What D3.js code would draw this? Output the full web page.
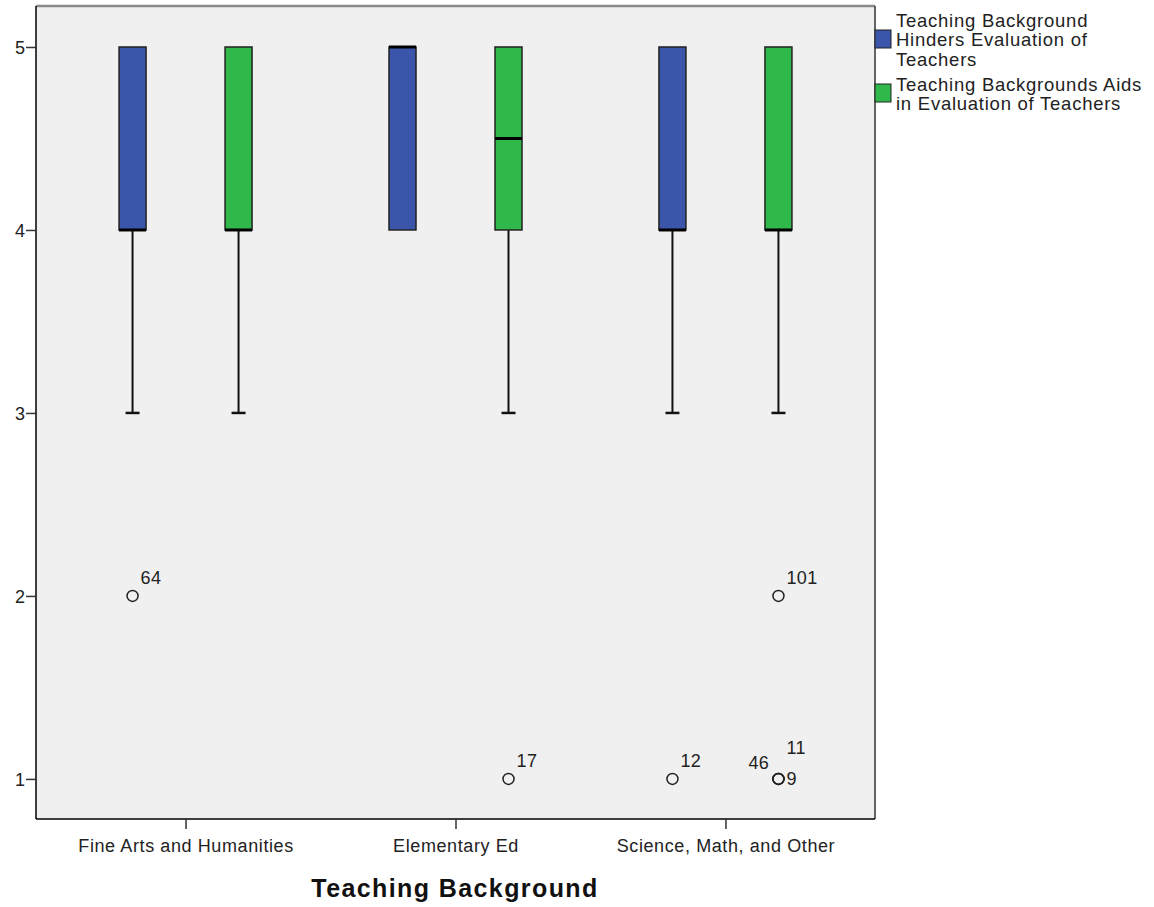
<!DOCTYPE html>
<html><head><meta charset="utf-8">
<script src="https://cdn.jsdelivr.net/npm/d3@7"></script>
<style>body{margin:0;background:#fff;} text{font-family:Arial,"Liberation Sans",sans-serif;}</style>
</head><body>
<svg id="c" width="1154" height="907"></svg>
<script>
const categories = ["Fine Arts and Humanities", "Elementary Ed", "Science, Math, and Other"];
const seriesNames = ["Teaching Background Hinders Evaluation of Teachers", "Teaching Backgrounds Aids in Evaluation of Teachers"];
const seriesColors = ["#3a55a9", "#31b84b"];
const yTicks = [1, 2, 3, 4, 5];
// [min whisker, q1, median, q3, max whisker] per category for each series
const hindersStats = [[3, 4, 4, 5, 5], [4, 4, 5, 5, 5], [3, 4, 4, 5, 5]];
const aidsStats = [[3, 4, 4, 5, 5], [3, 4, 4.5, 5, 5], [3, 4, 4, 5, 5]];
// outliers: [category index, series index, value, case label, label position]
const outliers = [
  [0, 0, 2, "64", "ur"],
  [1, 1, 1, "17", "ur"],
  [2, 0, 1, "12", "ur"],
  [2, 1, 2, "101", "ur"],
  [2, 1, 1, "46", "ul"],
  [2, 1, 1, "11", "ur2"],
  [2, 1, 1, "9", "r"]
];

const svg = d3.select("#c");
const L = 36, R = 875, T = 6, B = 819;
const x = d3.scalePoint().domain(categories).range([L, R]).padding(0.554);
const y = d3.scaleLinear().domain([0.781, 5.224]).range([B, T]);
const off = d3.scalePoint().domain([0, 1]).range([-53, 53]);
const bw = 27;

svg.append("rect").attr("x", L).attr("y", T).attr("width", R - L).attr("height", B - T).attr("fill", "#f0f0f0");
svg.append("line").attr("x1", L).attr("x2", R).attr("y1", T).attr("y2", T).attr("stroke", "#8a8a8a").attr("stroke-width", 2.5);
svg.append("line").attr("x1", R).attr("x2", R).attr("y1", T).attr("y2", B).attr("stroke", "#333").attr("stroke-width", 1.5);

// axes
const yAxis = d3.axisLeft(y).tickValues(yTicks).tickSize(10).tickSizeOuter(0).tickFormat(d3.format("d"));
const gy = svg.append("g").attr("transform", `translate(${L},0)`).call(yAxis);
gy.select(".domain").attr("stroke", "#000").attr("stroke-width", 1.5).attr("d", `M0,${T}V${B}`);
gy.selectAll(".tick line").attr("stroke", "#333").attr("stroke-width", 1.5);
gy.selectAll(".tick text").attr("font-size", 18).attr("fill", "#222").attr("x", -11).attr("dy", "0.35em");

const xAxis = d3.axisBottom(x).tickSize(10).tickSizeOuter(0);
const gx = svg.append("g").attr("transform", `translate(0,${B})`).call(xAxis);
gx.select(".domain").attr("stroke", "#000").attr("stroke-width", 1.5).attr("d", `M${L},0H${R}`);
gx.selectAll(".tick line").attr("stroke", "#333").attr("stroke-width", 1.5);
gx.selectAll(".tick text").attr("font-size", 18).attr("letter-spacing", 0.6).attr("fill", "#222").attr("y", 20);

svg.append("text").attr("x", 455).attr("y", 897).attr("text-anchor", "middle")
  .attr("font-size", 25).attr("letter-spacing", 1.4).attr("font-weight", "bold").attr("fill", "#111").text("Teaching Background");

// boxes
[hindersStats, aidsStats].forEach((stats, s) => {
  stats.forEach((st, i) => {
    const cx = x(categories[i]) + off(s);
    const [mn, q1, med, q3, mx] = st;
    const g = svg.append("g");
    if (mn < q1) {
      g.append("line").attr("x1", cx).attr("x2", cx).attr("y1", y(mn)).attr("y2", y(q1)).attr("stroke", "#111").attr("stroke-width", 2);
      g.append("line").attr("x1", cx - 7).attr("x2", cx + 7).attr("y1", y(mn)).attr("y2", y(mn)).attr("stroke", "#111").attr("stroke-width", 2.5);
    }
    if (mx > q3) {
      g.append("line").attr("x1", cx).attr("x2", cx).attr("y1", y(mx)).attr("y2", y(q3)).attr("stroke", "#111").attr("stroke-width", 2);
      g.append("line").attr("x1", cx - 7).attr("x2", cx + 7).attr("y1", y(mx)).attr("y2", y(mx)).attr("stroke", "#111").attr("stroke-width", 2.5);
    }
    g.append("rect").attr("x", cx - bw / 2).attr("y", y(q3)).attr("width", bw).attr("height", y(q1) - y(q3))
      .attr("fill", seriesColors[s]).attr("stroke", "#222").attr("stroke-width", 1.5);
    g.append("line").attr("x1", cx - bw / 2).attr("x2", cx + bw / 2).attr("y1", y(med)).attr("y2", y(med)).attr("stroke", "#000").attr("stroke-width", 3);
  });
});

// outliers
const labelOff = { ur: [8, -12], ul: [-30, -10], ur2: [8, -25], r: [8, 6] };
outliers.forEach(([ci, si, v, lab, pos]) => {
  const cx = x(categories[ci]) + off(si), cy = y(v);
  svg.append("circle").attr("cx", cx).attr("cy", cy).attr("r", 5.5).attr("fill", "none").attr("stroke", "#222").attr("stroke-width", 1.5);
  const [dx, dy] = labelOff[pos];
  svg.append("text").attr("x", cx + dx).attr("y", cy + dy).attr("font-size", 18).attr("letter-spacing", 0.4).attr("fill", "#222").text(lab);
});

// legend
const legendLines = [["Teaching Background", "Hinders Evaluation of", "Teachers"], ["Teaching Backgrounds Aids", "in Evaluation of Teachers"]];
const swY = [30, 84];
const textY = [27, 91];
legendLines.forEach((lines, s) => {
  svg.append("rect").attr("x", R).attr("y", swY[s]).attr("width", 16).attr("height", 18)
    .attr("fill", seriesColors[s]).attr("stroke", "#222").attr("stroke-width", 1);
  lines.forEach((t, k) => {
    svg.append("text").attr("x", 896).attr("y", textY[s] + k * 19.3).attr("font-size", 18.5).attr("letter-spacing", 0.75).attr("fill", "#222").text(t);
  });
});
</script>
</body></html>
